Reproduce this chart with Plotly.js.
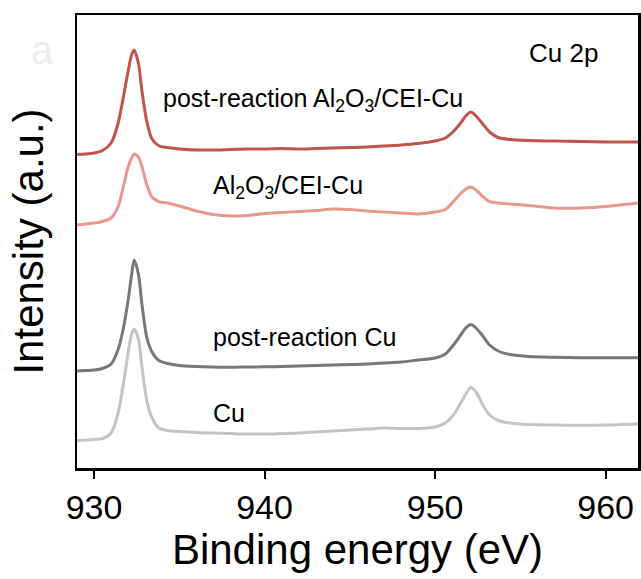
<!DOCTYPE html>
<html>
<head>
<meta charset="utf-8">
<script src="https://cdn.plot.ly/plotly-3.0.1.min.js"></script>
<style>
  html, body { margin: 0; padding: 0; background: #ffffff; }
  #chart { width: 641px; height: 579px; }
</style>
</head>
<body>
<div id="chart"></div>
<script>
// Cu 2p XPS spectra, stacked with vertical offsets (arbitrary units)
const bindingEnergy = [929, 929.5, 930, 930.5, 931, 931.4, 931.7, 932.0, 932.2, 932.35,
  932.6, 932.8, 933.1, 933.4, 933.8, 934.3,
  935, 936, 937, 938, 939, 940, 941, 942, 943, 944, 945, 946, 947, 948, 949, 950,
  950.6, 951.1, 951.5, 951.8, 952.1, 952.4, 952.8, 953.2, 953.7, 954.4, 955.5,
  957, 958.5, 960, 961.9];

const postReactionAlCEICu = [313.5, 314, 315, 317.5, 325, 344, 369, 397, 413, 418,
  405, 378, 346, 329, 322.3, 320.5,
  319, 318, 318, 318.5, 319, 319, 319.5, 319, 319.5, 320, 320.5, 321, 322, 323, 324.5, 327,
  330, 337, 345, 352, 356, 352, 344, 336, 330.5, 328.5, 327.5,
  327, 326.5, 326, 326];

const alCEICu = [243, 244, 245, 246.5, 250, 261, 280, 301, 310, 314,
  311, 302, 283, 271, 266.3, 265,
  262, 257, 253.5, 252, 252.5, 254.5, 255.5, 256.5, 257.5, 259, 258.5, 257, 256, 255, 254, 256,
  258.5, 267, 274.5, 279, 281, 278, 271.5, 266.3, 265, 264, 262.5,
  260, 260, 261.5, 265];

const postReactionCu = [97, 97.5, 98, 99.5, 104, 118, 138, 168, 193, 208,
  194, 165, 130, 116, 107.5, 104.5,
  102.5, 101.5, 101, 100.7, 101, 101.2, 101.5, 102, 102.5, 103, 103.5, 104, 105, 106, 108, 110,
  114, 123.5, 133, 140, 143.5, 140, 132, 123, 117, 113.5, 111.5,
  110.7, 110.3, 110.3, 110.3];

const bareCu = [27.5, 28, 28.5, 29.5, 35, 54, 82, 115, 134, 139,
  129, 102, 67, 50, 40, 37.5,
  36.5, 35.5, 35, 34.5, 34, 34, 34.5, 35, 36, 37, 38, 39, 40, 39.5, 39.5, 41,
  45, 53.5, 65, 74, 80.5, 76, 63, 53, 47.5, 45, 43.5,
  43, 42.7, 43, 44];

const seriesNames = ['post-reaction Al2O3/CEI-Cu', 'Al2O3/CEI-Cu', 'post-reaction Cu', 'Cu'];
const seriesValues = [postReactionAlCEICu, alCEICu, postReactionCu, bareCu];
const seriesColors = ['#c0554b', '#e8978c', '#787878', '#c4c4c4'];

// curve labels: text, energy position of left edge, intensity of text centre
const labelTexts = ['post-reaction Al<sub>2</sub>O<sub>3</sub>/CEI-Cu', 'Al<sub>2</sub>O<sub>3</sub>/CEI-Cu', 'post-reaction Cu', 'Cu'];
const labelEnergy = [933.93, 936.84, 936.84, 936.84];
const labelIntensity = [368, 281, 131, 55];

const xTickVals = [930, 940, 950, 960];
const xTickText = ['930', '940', '950', '960'];

const FONT = 'Liberation Sans, Arial, sans-serif';

const traces = seriesValues.map((vals, i) => ({
  type: 'scatter',
  mode: 'lines',
  name: seriesNames[i],
  x: bindingEnergy,
  y: vals,
  line: { color: seriesColors[i], width: 3, shape: 'spline', smoothing: 0.8 },
  hoverinfo: 'skip'
}));

const annotations = labelTexts.map((t, i) => ({
  x: labelEnergy[i], y: labelIntensity[i], xref: 'x', yref: 'y',
  text: t, showarrow: false, xanchor: 'left', yanchor: 'middle',
  font: { family: FONT, size: 25, color: '#000000' }
}));

annotations.push({
  x: 955.4, y: 415, xref: 'x', yref: 'y', text: 'Cu 2p', showarrow: false,
  xanchor: 'left', yanchor: 'middle',
  font: { family: FONT, size: 26, color: '#000000' }
});

// faint panel letter in the top-left corner
annotations.push({
  x: -35 / 561, y: 1 - 35 / 453, xref: 'paper', yref: 'paper', text: 'a', showarrow: false,
  xanchor: 'center', yanchor: 'middle',
  font: { family: FONT, size: 40, color: '#eeeeee' }
});

const layout = {
  width: 641, height: 579,
  margin: { l: 77, r: 3, t: 15, b: 111 },
  paper_bgcolor: '#ffffff', plot_bgcolor: '#ffffff',
  showlegend: false,
  font: { family: FONT, color: '#000000' },
  xaxis: {
    range: [929, 961.9],
    showgrid: false, zeroline: false,
    showline: true, mirror: true, linecolor: '#000000', linewidth: 2.5,
    ticks: 'outside', ticklen: 8, tickwidth: 2, tickcolor: '#000000',
    tickvals: xTickVals, ticktext: xTickText,
    tickfont: { family: FONT, size: 34, color: '#000000' },
    title: { text: 'Binding energy (eV)', font: { family: FONT, size: 42, color: '#000000' }, standoff: 8 }
  },
  yaxis: {
    range: [0, 453],
    showgrid: false, zeroline: false,
    showline: true, mirror: true, linecolor: '#000000', linewidth: 2.5,
    ticks: '', showticklabels: false,
    title: { text: 'Intensity (a.u.)', font: { family: FONT, size: 42, color: '#000000' }, standoff: 18 }
  },
  annotations: annotations
};

Plotly.newPlot('chart', traces, layout, { displayModeBar: false, staticPlot: true });
</script>
</body>
</html>
